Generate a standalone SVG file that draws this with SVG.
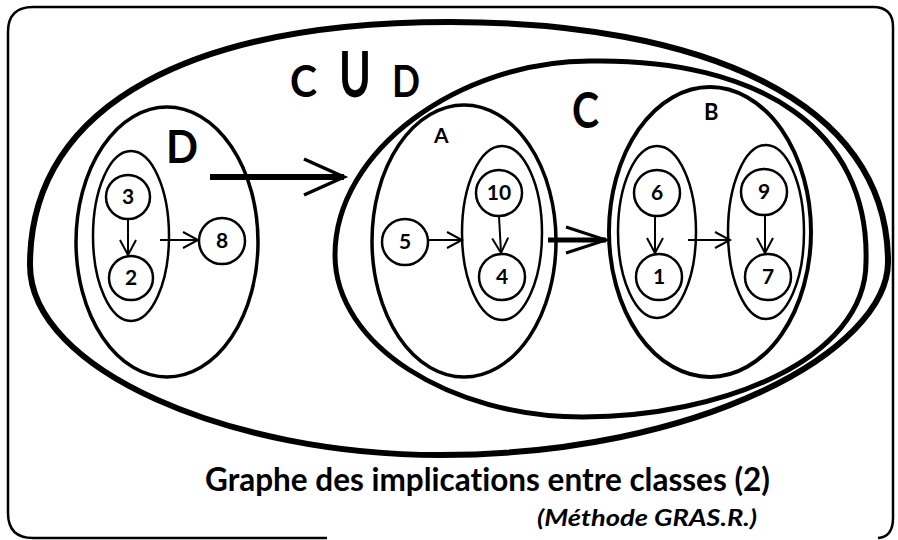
<svg xmlns="http://www.w3.org/2000/svg" width="898" height="540" viewBox="0 0 898 540">
<style>
.bg{fill:#fff}
.frame{fill:none;stroke:#000;stroke-width:2.5}
.set{fill:none;stroke:#000}
.node circle{fill:#fff;stroke:#000;stroke-width:2.5}
.num{font-family:"Lato","Liberation Sans",sans-serif;font-weight:bold;font-size:21px;text-anchor:middle;fill:#000}
.lbl{font-family:"Lato","Liberation Sans",sans-serif;font-weight:bold;fill:#000}
.cap{font-family:"Lato","Liberation Sans",sans-serif;font-weight:bold;fill:#000;font-variant-ligatures:none}
.edge{fill:none;stroke:#000}
</style>
<defs>
<marker id="vs" markerUnits="userSpaceOnUse" markerWidth="24" markerHeight="24" viewBox="-20 -12 24 24" refX="0" refY="0" orient="auto" overflow="visible">
<path d="M-15,-8 L0,0 L-15,8" fill="none" stroke="#000" stroke-width="2"/>
</marker>
<marker id="vb" markerUnits="userSpaceOnUse" markerWidth="50" markerHeight="50" viewBox="-45 -25 50 50" refX="0" refY="0" orient="auto" overflow="visible">
<path d="M-40,-18 L0,0 L-40,18" fill="none" stroke="#000" stroke-width="3.5"/>
</marker>
<marker id="vm" markerUnits="userSpaceOnUse" markerWidth="50" markerHeight="50" viewBox="-45 -25 50 50" refX="0" refY="0" orient="auto" overflow="visible">
<path d="M-40,-13 L0,0 L-40,13" fill="none" stroke="#000" stroke-width="3"/>
</marker>
</defs>
<rect class="bg" x="0" y="0" width="898" height="540"/>
<path class="frame" d="M327,538 H33 Q8,538 8,513 V32 Q8,7 33,7 H873 Q893,7 893,27 V518 Q893,537 878,538"/>

<g id="set-CuD">
<path class="set" stroke-width="6" d="M30,265 C30,100 200,22 450,22 C700,22 888,100 888,262 C888,350 700,455 440,455 C230,455 30,370 30,265 Z"/>
<text class="lbl" x="290" y="97" font-size="44" textLength="27" lengthAdjust="spacingAndGlyphs">C</text>
<text class="lbl" x="339" y="97" font-size="64" textLength="32" lengthAdjust="spacingAndGlyphs">U</text>
<text class="lbl" x="392" y="97" font-size="44" textLength="28" lengthAdjust="spacingAndGlyphs">D</text>
</g>
<g id="set-C">
<path class="set" stroke-width="5" d="M335,255 C335,150 460,61 590,61 C760,58 870,130 866,262 C866,360 720,417 583,417 C450,417 335,345 335,255 Z"/>
<text class="lbl" x="572" y="128" font-size="50" textLength="27" lengthAdjust="spacingAndGlyphs">C</text>
</g>
<g id="set-D">
<ellipse class="set" stroke-width="3.5" cx="167" cy="242" rx="91" ry="135"/>
<text class="lbl" x="166" y="163" font-size="46" textLength="32" lengthAdjust="spacingAndGlyphs">D</text>
</g>
<g id="class-D1">
<ellipse class="set" stroke-width="2.5" cx="131" cy="236" rx="38" ry="85"/>
</g>
<g id="set-A">
<ellipse class="set" stroke-width="3.5" cx="464" cy="241" rx="92" ry="136"/>
<text class="lbl" x="434" y="143" font-size="21">A</text>
</g>
<g id="class-A1">
<ellipse class="set" stroke-width="2.5" cx="502" cy="233" rx="40" ry="87"/>
</g>
<g id="set-B">
<ellipse class="set" stroke-width="4" cx="710" cy="232" rx="101" ry="145"/>
<text class="lbl" x="704" y="120" font-size="22">B</text>
</g>
<g id="class-B1">
<ellipse class="set" stroke-width="2.5" cx="657" cy="232" rx="39" ry="86"/>
</g>
<g id="class-B2">
<ellipse class="set" stroke-width="2.5" cx="766" cy="232" rx="38" ry="87"/>
</g>

<g id="connectors">
<path class="edge" stroke-width="2" d="M128,220 V255" marker-end="url(#vs)"/>
<path class="edge" stroke-width="2" d="M160,240 H198" marker-end="url(#vs)"/>
<path class="edge" stroke-width="2" d="M428,240 H462" marker-end="url(#vs)"/>
<path class="edge" stroke-width="2" d="M499,216 L501,253" marker-end="url(#vs)"/>
<path class="edge" stroke-width="2" d="M655,216 V253" marker-end="url(#vs)"/>
<path class="edge" stroke-width="2" d="M688,240 H730" marker-end="url(#vs)"/>
<path class="edge" stroke-width="2" d="M765,215 V253" marker-end="url(#vs)"/>
<path class="edge" stroke-width="6" d="M210,177 H344" marker-end="url(#vb)"/>
<path class="edge" stroke-width="5" d="M548,240 H606" marker-end="url(#vm)"/>
</g>

<g id="n3" class="node"><circle cx="128" cy="197" r="22"/><text class="num" x="128" y="204">3</text></g>
<g id="n2" class="node"><circle cx="131" cy="278" r="22"/><text class="num" x="131" y="285">2</text></g>
<g id="n8" class="node"><circle cx="222" cy="241" r="23"/><text class="num" x="222" y="248">8</text></g>
<g id="n5" class="node"><circle cx="405" cy="242" r="23"/><text class="num" x="405" y="249">5</text></g>
<g id="n10" class="node"><circle cx="499" cy="193" r="23"/><text class="num" x="499" y="200">10</text></g>
<g id="n4" class="node"><circle cx="502" cy="277" r="23"/><text class="num" x="502" y="284">4</text></g>
<g id="n6" class="node"><circle cx="657" cy="193" r="23"/><text class="num" x="657" y="200">6</text></g>
<g id="n1" class="node"><circle cx="659" cy="277" r="23"/><text class="num" x="659" y="284">1</text></g>
<g id="n9" class="node"><circle cx="764" cy="192" r="23"/><text class="num" x="764" y="199">9</text></g>
<g id="n7" class="node"><circle cx="768" cy="277" r="23"/><text class="num" x="768" y="284">7</text></g>

<text class="cap" x="205" y="491" font-size="33" textLength="565" lengthAdjust="spacingAndGlyphs">Graphe des implications entre classes (2)</text>
<text class="cap" x="537" y="526" font-size="23" font-style="italic" textLength="220" lengthAdjust="spacingAndGlyphs">(Méthode GRAS.R.)</text>
</svg>
